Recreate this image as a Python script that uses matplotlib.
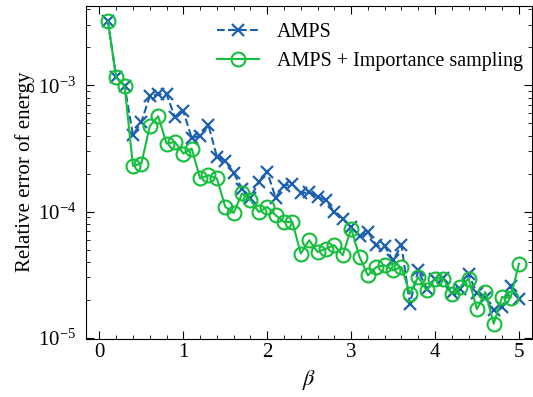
import numpy as np
import matplotlib
matplotlib.use("Agg")
import matplotlib.pyplot as plt
from matplotlib.ticker import MultipleLocator, LogLocator, NullFormatter

plt.rcParams['font.family'] = ['Liberation Serif', 'DejaVu Serif']
plt.rcParams['mathtext.fontset'] = 'stix'

# data
beta = np.round(np.arange(1, 51) * 0.1, 1)
amps = [3.24e-3, 1.16e-3, 0.99e-3, 4.04e-4, 5.14e-4, 8.2e-4, 8.5e-4, 8.5e-4, 5.6e-4, 6.25e-4,
        3.82e-4, 4.0e-4, 4.84e-4, 2.72e-4, 2.52e-4, 2.02e-4, 1.52e-4, 1.29e-4, 1.72e-4, 2.06e-4,
        1.29e-4, 1.6e-4, 1.65e-4, 1.39e-4, 1.43e-4, 1.31e-4, 1.23e-4, 0.99e-4, 0.88e-4, 7.5e-5,
        6.4e-5, 6.9e-5, 5.4e-5, 5.3e-5, 4.1e-5, 5.4e-5, 1.86e-5, 3.42e-5, 2.45e-5, 2.94e-5,
        2.98e-5, 2.27e-5, 2.45e-5, 3.18e-5, 2.25e-5, 2.07e-5, 1.65e-5, 1.75e-5, 2.55e-5, 2.01e-5]
amps_is = [3.24e-3, 1.16e-3, 0.99e-3, 2.30e-4, 2.40e-4, 4.75e-4, 5.7e-4, 3.46e-4, 3.56e-4, 2.88e-4,
           3.16e-4, 1.83e-4, 1.94e-4, 1.83e-4, 1.09e-4, 0.975e-4, 1.39e-4, 1.23e-4, 0.99e-4, 1.09e-4,
           0.935e-4, 8.26e-5, 8.26e-5, 4.64e-5, 5.92e-5, 4.78e-5, 5.08e-5, 5.41e-5, 4.5e-5, 7.33e-5,
           4.37e-5, 3.12e-5, 3.63e-5, 3.75e-5, 3.42e-5, 3.63e-5, 2.23e-5, 3.03e-5, 2.37e-5, 2.94e-5,
           2.94e-5, 2.21e-5, 2.52e-5, 2.94e-5, 1.68e-5, 2.30e-5, 1.29e-5, 2.10e-5, 2.07e-5, 3.86e-5]

fig = plt.figure(figsize=(5.33, 3.97), dpi=100)
ax = fig.add_axes([86 / 533, 1 - 338.5 / 397, 445.5 / 533, 333 / 397])

blue = '#1c60ae'
green = '#14bf3c'
ax.plot(beta, amps, ls='--', color=blue, marker='x', ms=9, mew=1.6, lw=1.5, label='AMPS')
ax.plot(beta, amps_is, ls='-', color=green, marker='o', ms=10, mfc='none', mew=1.5, lw=1.5,
        label='AMPS + Importance sampling')

ax.set_yscale('log')
ax.set_xlim(-0.16, 5.15)
ax.set_ylim(0.985e-5, 4.3e-3)
ax.xaxis.set_major_locator(MultipleLocator(1))
ax.xaxis.set_minor_locator(MultipleLocator(0.2))
ax.yaxis.set_major_locator(LogLocator(base=10, numticks=10))
ax.yaxis.set_minor_locator(LogLocator(base=10, subs=np.arange(2, 10), numticks=10))
ax.yaxis.set_minor_formatter(NullFormatter())
ax.tick_params(which='both', direction='in', top=True, right=True, labelsize=15)
ax.tick_params(which='major', length=5.5)
ax.tick_params(which='minor', length=3)
ax.tick_params(axis='y', which='major', pad=7)

ax.set_xlabel(r'$\beta$', fontsize=16)
ax.set_ylabel('Relative error of energy', fontsize=15, labelpad=2)

ax.legend(loc='upper right', bbox_to_anchor=(0.998, 0.972), borderaxespad=0,
          frameon=False, fontsize=14.5, handlelength=2.1, handletextpad=0.85)

fig.savefig('out.png', dpi=100)
